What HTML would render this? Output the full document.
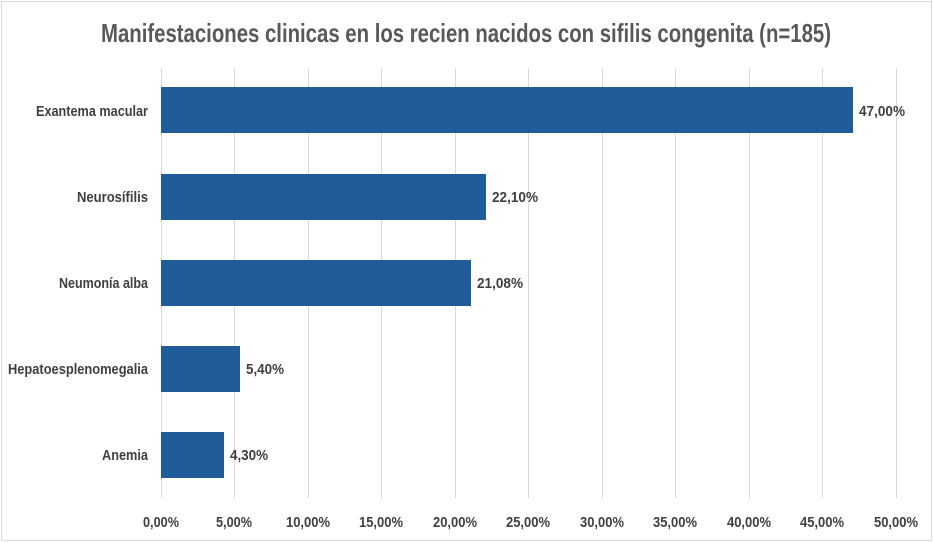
<!DOCTYPE html>
<html><head><meta charset="utf-8"><style>
html,body{margin:0;padding:0;background:#fff}
svg{display:block}
text{font-family:"Liberation Sans Narrow","Liberation Sans",sans-serif;font-weight:bold;fill:#404040}
</style></head><body>
<svg width="933" height="543" viewBox="0 0 933 543">
<rect x="1.5" y="1.5" width="930" height="539" fill="#fff" stroke="#d9d9d9"/>
<text x="466" y="42" font-size="26" style="fill:#595959" text-anchor="middle" textLength="730" lengthAdjust="spacingAndGlyphs">Manifestaciones clinicas en los recien nacidos con sifilis congenita (n=185)</text>
<g stroke="#d9d9d9" stroke-width="1">
<line x1="161.5" y1="68" x2="161.5" y2="498"/>
<line x1="234.5" y1="68" x2="234.5" y2="498"/>
<line x1="308.5" y1="68" x2="308.5" y2="498"/>
<line x1="381.5" y1="68" x2="381.5" y2="498"/>
<line x1="455.5" y1="68" x2="455.5" y2="498"/>
<line x1="528.5" y1="68" x2="528.5" y2="498"/>
<line x1="602.5" y1="68" x2="602.5" y2="498"/>
<line x1="675.5" y1="68" x2="675.5" y2="498"/>
<line x1="749.5" y1="68" x2="749.5" y2="498"/>
<line x1="822.5" y1="68" x2="822.5" y2="498"/>
<line x1="896.5" y1="68" x2="896.5" y2="498"/>
</g>
<g fill="#1f5c99">
<rect x="161" y="87" width="692" height="46"/>
<rect x="161" y="174" width="325" height="46"/>
<rect x="161" y="260" width="310" height="46"/>
<rect x="161" y="346" width="79" height="46"/>
<rect x="161" y="432" width="63" height="46"/>
</g>
<g font-size="15">
<text x="859" y="116" textLength="46" lengthAdjust="spacingAndGlyphs">47,00%</text>
<text x="492" y="202" textLength="46" lengthAdjust="spacingAndGlyphs">22,10%</text>
<text x="477" y="288" textLength="46" lengthAdjust="spacingAndGlyphs">21,08%</text>
<text x="246" y="374" textLength="38" lengthAdjust="spacingAndGlyphs">5,40%</text>
<text x="230" y="460" textLength="38" lengthAdjust="spacingAndGlyphs">4,30%</text>
</g>
<g font-size="15" text-anchor="end">
<text x="148" y="116" textLength="112" lengthAdjust="spacingAndGlyphs">Exantema macular</text>
<text x="148" y="202" textLength="71" lengthAdjust="spacingAndGlyphs">Neurosífilis</text>
<text x="148" y="288" textLength="89" lengthAdjust="spacingAndGlyphs">Neumonía alba</text>
<text x="148" y="374" textLength="140" lengthAdjust="spacingAndGlyphs">Hepatoesplenomegalia</text>
<text x="148" y="460" textLength="46" lengthAdjust="spacingAndGlyphs">Anemia</text>
</g>
<g font-size="15" text-anchor="middle" lengthAdjust="spacingAndGlyphs">
<text x="161" y="527" textLength="36" lengthAdjust="spacingAndGlyphs">0,00%</text>
<text x="234" y="527" textLength="36" lengthAdjust="spacingAndGlyphs">5,00%</text>
<text x="308" y="527" textLength="44" lengthAdjust="spacingAndGlyphs">10,00%</text>
<text x="381" y="527" textLength="44" lengthAdjust="spacingAndGlyphs">15,00%</text>
<text x="455" y="527" textLength="44" lengthAdjust="spacingAndGlyphs">20,00%</text>
<text x="528" y="527" textLength="44" lengthAdjust="spacingAndGlyphs">25,00%</text>
<text x="602" y="527" textLength="44" lengthAdjust="spacingAndGlyphs">30,00%</text>
<text x="675" y="527" textLength="44" lengthAdjust="spacingAndGlyphs">35,00%</text>
<text x="749" y="527" textLength="44" lengthAdjust="spacingAndGlyphs">40,00%</text>
<text x="822" y="527" textLength="44" lengthAdjust="spacingAndGlyphs">45,00%</text>
<text x="896" y="527" textLength="44" lengthAdjust="spacingAndGlyphs">50,00%</text>
</g>
</svg>
</body></html>
